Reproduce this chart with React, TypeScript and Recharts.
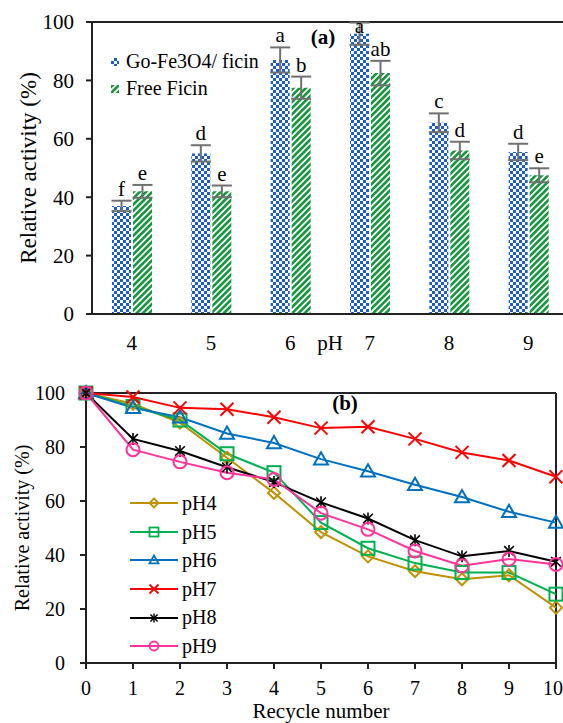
import React from "react";
import { BarChart, Bar, XAxis, YAxis, ErrorBar, LabelList, Legend, ReferenceLine, LineChart, Line } from "recharts";

const FONT = "'Liberation Serif', 'Times New Roman', Times, 'DejaVu Serif', serif";

// (a) effect of pH
const phLevels = ["4", "5", "6", "7", "8", "9"];
const immobilizedActivity = [37, 55, 87, 96, 65.5, 55.5];
const immobilizedSd = [1.8, 2.8, 4.3, 3.8, 3.2, 2.8];
const immobilizedGroups = ["f", "d", "a", "a", "c", "d"];
const freeActivity = [42, 42, 77.5, 82.5, 56, 47.5];
const freeSd = [2.2, 2, 3.8, 4.2, 3, 2.4];
const freeGroups = ["e", "e", "b", "ab", "d", "e"];
const activityTicks = [0, 20, 40, 60, 80, 100];

// (b) reusability
const recycleNumbers = [0, 1, 2, 3, 4, 5, 6, 7, 8, 9, 10];
const ph4Activity = [100, 96, 89, 76, 63, 48.5, 39.5, 34, 31, 32.5, 20.5];
const ph5Activity = [100, 95, 90, 77.5, 70.5, 52, 42.5, 37, 33.5, 33.5, 25.5];
const ph6Activity = [100, 94.5, 91, 85, 81.5, 75.5, 71, 66, 61.5, 56, 52];
const ph7Activity = [100, 98.5, 94.5, 94, 91, 87, 87.5, 83, 78, 75, 69];
const ph8Activity = [100, 83, 78.5, 72.5, 67, 59.5, 53.5, 45.5, 39.5, 41.5, 37.5];
const ph9Activity = [100, 79, 74.5, 70.5, 68, 55.5, 49.5, 41.5, 36, 38.5, 36.5];

const phData = phLevels.map((ph, i) => ({
  ph,
  immobilized: immobilizedActivity[i],
  immobilizedSd: immobilizedSd[i],
  immobilizedGroup: immobilizedGroups[i],
  free: freeActivity[i],
  freeSd: freeSd[i],
  freeGroup: freeGroups[i],
}));

const lineSeries = [
  { key: "pH4", values: ph4Activity, color: "#BF9000", shape: "diamond", size: 12 },
  { key: "pH5", values: ph5Activity, color: "#00B050", shape: "square", size: 13 },
  { key: "pH6", values: ph6Activity, color: "#0070C0", shape: "triangle", size: 14 },
  { key: "pH7", values: ph7Activity, color: "#FF0000", shape: "x", size: 13 },
  { key: "pH8", values: ph8Activity, color: "#000000", shape: "star", size: 12 },
  { key: "pH9", values: ph9Activity, color: "#FF3399", shape: "circle", size: 13 },
]

const recycleData = recycleNumbers.map((n, i) => {
  const row: Record<string, number> = { cycle: n };
  lineSeries.forEach((s) => (row[s.key] = s.values[i]));
  return row;
});

const barOrder = ["immobilized", "free"];
const barFills: Record<string, string> = { immobilized: "url(#checker)", free: "url(#stripes)" };
const PLOT_TOP = 22;

const Marker = ({ shape, cx, cy, color, size, sw = 2 }: any) => {
  const s = size / 2;
  if (cx == null || cy == null) return null;
  switch (shape) {
    case "diamond":
      return <polygon points={`${cx},${cy - s} ${cx + s},${cy} ${cx},${cy + s} ${cx - s},${cy}`} fill="none" stroke={color} strokeWidth={sw} />;
    case "square":
      return <rect x={cx - s} y={cy - s} width={size} height={size} fill="none" stroke={color} strokeWidth={sw} />;
    case "triangle":
      return <polygon points={`${cx},${cy - s} ${cx + s},${cy + s * 0.75} ${cx - s},${cy + s * 0.75}`} fill="none" stroke={color} strokeWidth={sw} />;
    case "x":
      return (
        <g stroke={color} strokeWidth={sw}>
          <line x1={cx - s} y1={cy - s} x2={cx + s} y2={cy + s} />
          <line x1={cx - s} y1={cy + s} x2={cx + s} y2={cy - s} />
        </g>
      );
    case "star":
      return (
        <g stroke={color} strokeWidth={sw * 0.8}>
          <line x1={cx} y1={cy - s} x2={cx} y2={cy + s} />
          <line x1={cx - s * 0.8} y1={cy - s * 0.8} x2={cx + s * 0.8} y2={cy + s * 0.8} />
          <line x1={cx - s * 0.8} y1={cy + s * 0.8} x2={cx + s * 0.8} y2={cy - s * 0.8} />
        </g>
      );
    default:
      return <circle cx={cx} cy={cy} r={s} fill="none" stroke={color} strokeWidth={sw} />;
  }
};

const groupLabel = (activity: number[], sd: number[]) => (props: any) => {
  const { x, y, width, height, value, index } = props;
  const errTop = y - (sd[index] * height) / activity[index];
  const baseline = Math.max(errTop - 5, PLOT_TOP + 11);
  return (
    <text key={`lbl-${index}`} x={x + width / 2} y={baseline} textAnchor="middle" fontSize={21} fontFamily={FONT} fill="#000">
      {value}
    </text>
  );
};

const YTitle = ({ viewBox, x0, size, text }: any) => {
  const cy = viewBox.y + viewBox.height / 2;
  return (
    <text x={x0} y={cy} transform={`rotate(-90 ${x0} ${cy})`} textAnchor="middle" dominantBaseline="central" fontSize={size} fontFamily={FONT} fill="#000">
      {text}
    </text>
  );
};

const XTitle = ({ viewBox, dy, size, text }: any) => (
  <text x={viewBox.x + viewBox.width / 2} y={viewBox.y + dy} textAnchor="middle" fontSize={size} fontFamily={FONT} fill="#000">
    {text}
  </text>
);

const BarLegend = ({ payload }: any) => {
  const items = [...(payload || [])].sort((a: any, b: any) => barOrder.indexOf(a.dataKey) - barOrder.indexOf(b.dataKey));
  return (
    <div style={{ fontFamily: FONT, fontSize: 20, lineHeight: "27px", color: "#000" }}>
      {items.map((e: any) => (
        <div key={e.value} style={{ display: "flex", alignItems: "center", whiteSpace: "nowrap" }}>
          <svg width={8} height={8} style={{ marginRight: 7 }}>
            <rect width={8} height={8} fill={barFills[e.dataKey] || e.color} />
          </svg>
          {e.value}
        </div>
      ))}
    </div>
  );
};

const LineLegend = ({ payload }: any) => {
  const items = [...(payload || [])].sort(
    (a: any, b: any) => lineSeries.findIndex((l) => l.key === a.dataKey) - lineSeries.findIndex((l) => l.key === b.dataKey)
  );
  return (
    <div style={{ fontFamily: FONT, fontSize: 20, lineHeight: "28.6px", color: "#000" }}>
      {items.map((e: any) => {
        const s = lineSeries.find((l) => l.key === e.dataKey) || lineSeries[0];
        return (
          <div key={e.value} style={{ display: "flex", alignItems: "center", whiteSpace: "nowrap" }}>
            <svg width={48} height={14} style={{ marginRight: 4 }}>
              <line x1={0} y1={7} x2={48} y2={7} stroke={s.color} strokeWidth={2} />
              <Marker shape={s.shape} cx={24} cy={7} color={s.color} size={9} sw={1.8} />
            </svg>
            {e.value}
          </div>
        );
      })}
    </div>
  );
};

const tickTop = { fontSize: 21, fill: "#000", fontFamily: FONT };
const tickBottom = { fontSize: 20, fill: "#000", fontFamily: FONT };
const axisLine = { stroke: "#222", strokeWidth: 2 };

export default function App() {
  return (
    <div style={{ position: "fixed", left: 0, top: 0, width: 563, height: 723, overflow: "hidden", background: "#fff", fontFamily: FONT }}>
      <div style={{ position: "absolute", left: 0, top: 0 }}>
        <BarChart width={600} height={360} data={phData} margin={{ top: PLOT_TOP, right: 32, bottom: 16, left: 0 }} barGap={2} barSize={19}>
          <defs>
            <pattern id="checker" width={6} height={6} patternUnits="userSpaceOnUse">
              <rect width={6} height={6} fill="#1b5cc8" />
              <rect x={0} y={0} width={3} height={3} fill="#ffffff" />
              <rect x={3} y={3} width={3} height={3} fill="#ffffff" />
            </pattern>
            <pattern id="stripes" width={4.4} height={4.4} patternUnits="userSpaceOnUse" patternTransform="rotate(45)">
              <rect width={4.4} height={4.4} fill="#ffffff" />
              <rect width={2.6} height={4.4} fill="#14963c" />
            </pattern>
          </defs>
          <XAxis dataKey="ph" height={30} tick={tickTop} tickLine={false} tickMargin={15} axisLine={axisLine}
            label={<XTitle dy={36} size={21} text="pH" />} />
          <YAxis width={92} domain={[0, 100]} ticks={activityTicks} tick={tickTop} tickSize={6} tickMargin={12}
            tickLine={{ stroke: "#222", strokeWidth: 2 }} axisLine={axisLine}
            label={<YTitle x0={28} size={23} text="Relative activity (%)" />} />
          <ReferenceLine y={100} stroke="#222" strokeWidth={2} />
          <Legend layout="vertical" align="center" verticalAlign="middle" content={<BarLegend />}
            wrapperStyle={{ left: 111, top: 48, width: "auto", height: "auto" }} />
          <Bar dataKey="immobilized" name="Go-Fe3O4/ ficin" fill="url(#checker)" isAnimationActive={false}>
            <ErrorBar dataKey="immobilizedSd" width={10} stroke="#707070" strokeWidth={2} direction="y" />
            <LabelList dataKey="immobilizedGroup" content={groupLabel(immobilizedActivity, immobilizedSd)} />
          </Bar>
          <Bar dataKey="free" name="Free Ficin" fill="url(#stripes)" isAnimationActive={false}>
            <ErrorBar dataKey="freeSd" width={10} stroke="#707070" strokeWidth={2} direction="y" />
            <LabelList dataKey="freeGroup" content={groupLabel(freeActivity, freeSd)} />
          </Bar>
          <text x={323} y={44} textAnchor="middle" fontSize={21} fontWeight="bold" fontFamily={FONT} fill="#000">(a)</text>
        </BarChart>
      </div>
      <div style={{ position: "absolute", left: 0, top: 360 }}>
        <LineChart width={563} height={363} data={recycleData} margin={{ top: 33, right: 7, bottom: 20, left: 0 }}>
          <XAxis type="number" dataKey="cycle" domain={[0, 10]} ticks={recycleNumbers} height={40} tick={tickBottom}
            tickSize={6} tickMargin={12} tickLine={{ stroke: "#222", strokeWidth: 2 }} axisLine={axisLine}
            label={<XTitle dy={55} size={21} text="Recycle number" />} />
          <YAxis width={86} domain={[0, 100]} ticks={activityTicks} tick={tickBottom} tickSize={6} tickMargin={15}
            tickLine={{ stroke: "#222", strokeWidth: 2 }} axisLine={axisLine}
            label={<YTitle x0={22} size={20} text="Relative activity (%)" />} />
          <ReferenceLine y={100} stroke="#222" strokeWidth={2} />
          <ReferenceLine x={10} stroke="#222" strokeWidth={2} />
          <Legend layout="vertical" align="center" verticalAlign="middle" content={<LineLegend />}
            wrapperStyle={{ left: 130, top: 129, width: "auto", height: "auto" }} />
          {lineSeries.map((s) => (
            <Line key={s.key} type="linear" dataKey={s.key} name={s.key} stroke={s.color} strokeWidth={2}
              dot={(p: any) => <Marker key={`${s.key}-${p.index}`} shape={s.shape} cx={p.cx} cy={p.cy} color={s.color} size={s.size} />}
              activeDot={false} isAnimationActive={false} />
          ))}
          <text x={345} y={50} textAnchor="middle" fontSize={21} fontWeight="bold" fontFamily={FONT} fill="#000">(b)</text>
        </LineChart>
      </div>
    </div>
  );
}
